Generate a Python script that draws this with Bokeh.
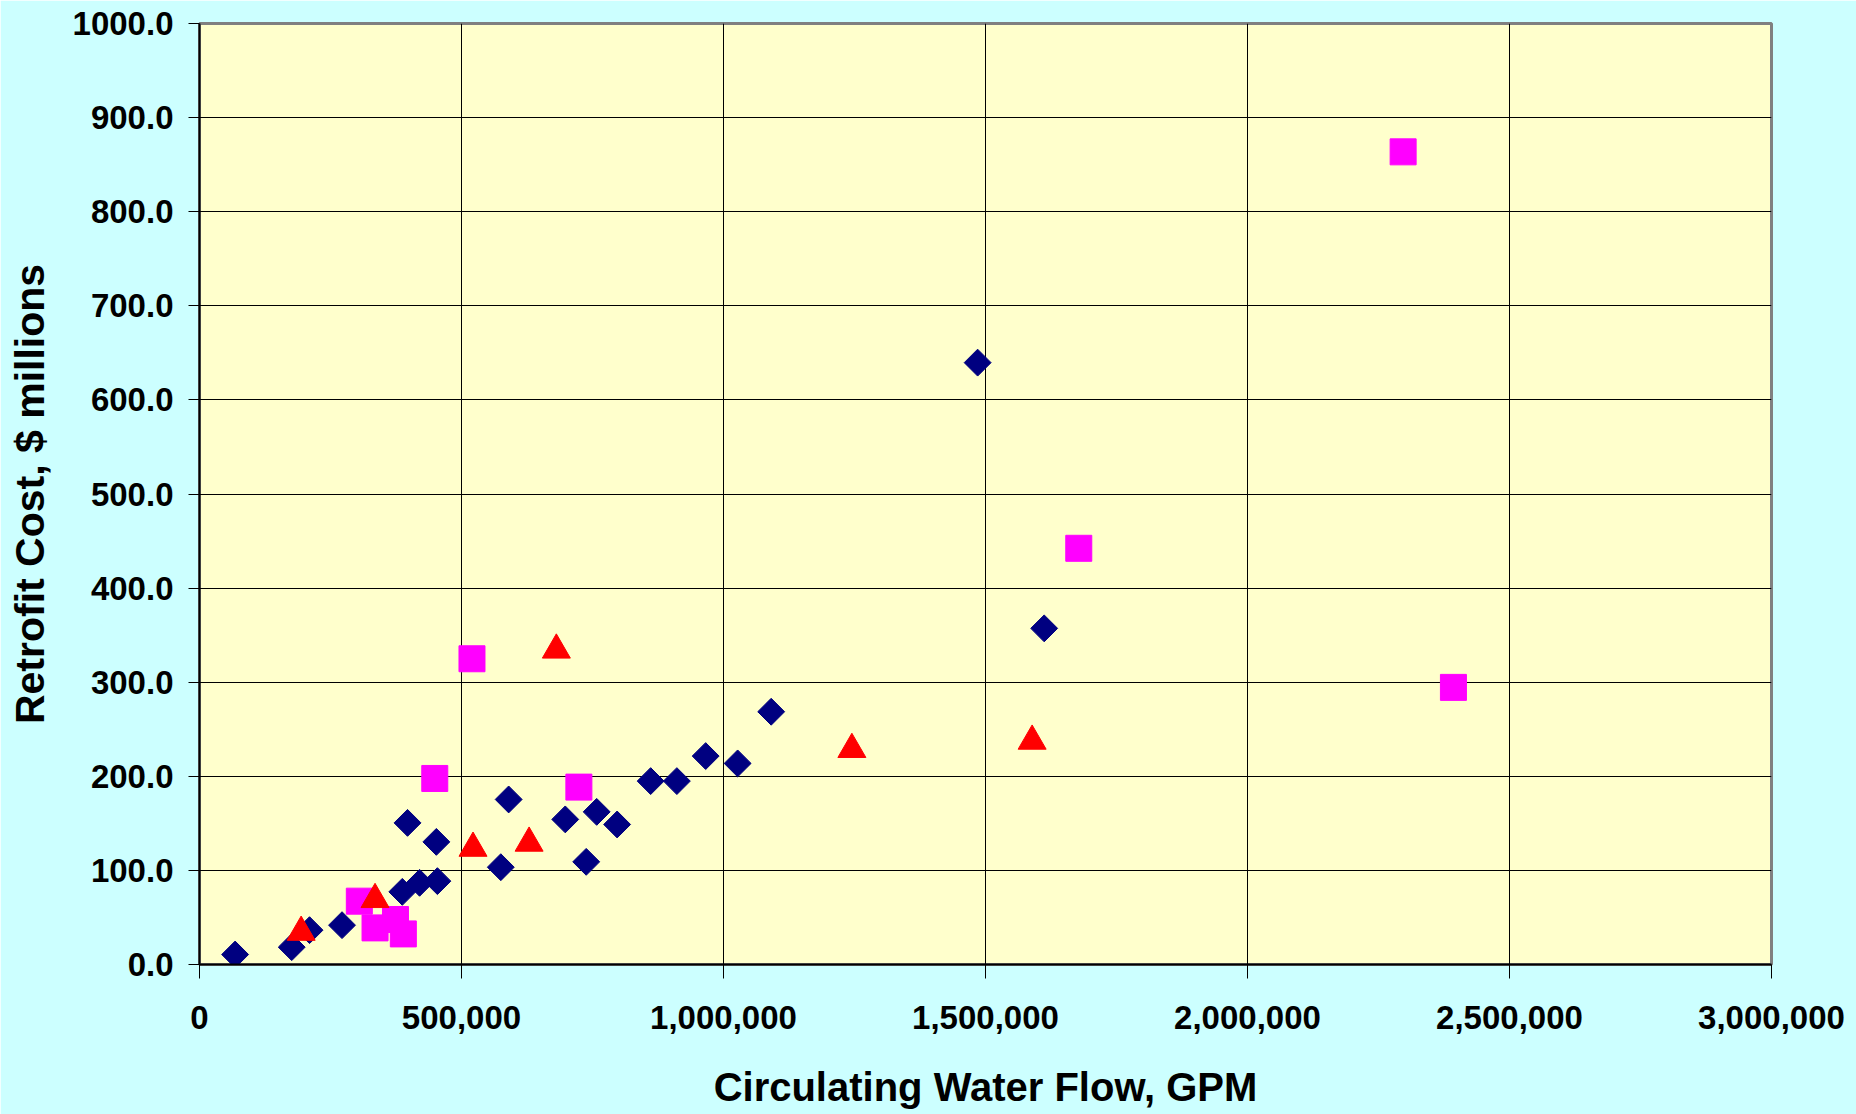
import math

from bokeh.embed import file_html
from bokeh.models import NumeralTickFormatter, Range1d, FixedTicker
from bokeh.plotting import figure
from bokeh.resources import INLINE

# Circulating water flow (GPM) and retrofit cost ($ millions), one list pair per series
diamond_flow = [68000, 176000, 210000, 272000, 387000, 420000, 454000, 397000,
                452000, 575000, 590000, 698000, 738000, 758000, 797000, 861000,
                911000, 966000, 1027000, 1091000, 1485000, 1612000]
diamond_cost = [10.6, 18.4, 36.5, 41.8, 77.2, 86.8, 88.6, 150.5,
                130.3, 103.4, 175.4, 154.2, 109.1, 162.2, 148.8, 194.9,
                194.9, 221.5, 213.7, 268.6, 639.6, 357.2]

square_flow = [305000, 335000, 374000, 389000, 449000, 520000, 724000,
               1678000, 2297000, 2393000]
square_cost = [67.3, 38.9, 47.8, 32.5, 197.7, 324.9, 188.5,
               442.3, 863.6, 294.5]

triangle_flow = [194000, 335000, 522000, 629000, 681000, 1245000, 1589000]
triangle_cost = [34.3, 69.1, 123.6, 129.0, 334.2, 228.6, 237.4]

x_ticks = [0, 500000, 1000000, 1500000, 2000000, 2500000, 3000000]
y_ticks = [0, 100, 200, 300, 400, 500, 600, 700, 800, 900, 1000]

FONT = "Liberation Sans"

p = figure(
    width=1856, height=1114,
    frame_width=1572, frame_height=941,
    min_border_left=199, min_border_right=85,
    min_border_top=23, min_border_bottom=150,
    x_range=Range1d(0, 3000000), y_range=Range1d(0, 1000),
    output_backend="svg", toolbar_location=None,
)

p.border_fill_color = "#CCFFFF"
p.background_fill_color = "#FFFFCC"
p.outline_line_color = "#808080"
p.outline_line_width = 3

# grid
for g in (p.xgrid, p.ygrid):
    g.grid_line_color = "#000000"
    g.grid_line_width = 1
p.xaxis.ticker = FixedTicker(ticks=x_ticks)
p.yaxis.ticker = FixedTicker(ticks=y_ticks)

# axes
for ax in (p.xaxis, p.yaxis):
    ax.axis_line_color = "#000000"
    ax.axis_line_width = 2
    ax.major_tick_line_color = "#000000"
    ax.major_tick_line_width = 1
    ax.major_tick_in = 0
    ax.minor_tick_line_color = None
    ax.major_label_text_font = FONT
    ax.major_label_text_font_style = "bold"
    ax.major_label_text_font_size = "33px"
    ax.major_label_text_color = "#000000"
    ax.axis_label_text_font = FONT
    ax.axis_label_text_font_style = "bold"
    ax.axis_label_text_color = "#000000"

p.xaxis.major_tick_out = 14
p.yaxis.major_tick_out = 11
p.xaxis.major_label_standoff = 27
p.yaxis.major_label_standoff = 15
p.xaxis.formatter = NumeralTickFormatter(format="0,0")
p.yaxis.formatter = NumeralTickFormatter(format="0.0")

p.xaxis.axis_label = "Circulating Water Flow, GPM"
p.yaxis.axis_label = "Retrofit Cost, $ millions"
p.xaxis.axis_label_text_font_size = "40px"
p.yaxis.axis_label_text_font_size = "41px"
p.xaxis.axis_label_standoff = 33
p.yaxis.axis_label_standoff = 17

# series
p.scatter(diamond_flow, diamond_cost, marker="square", angle=math.pi / 4,
          size=19, fill_color="#000080", line_color="#000080")
p.scatter(square_flow, square_cost, marker="square",
          size=26, fill_color="#FF00FF", line_color="#FF00FF")
p.scatter(triangle_flow, triangle_cost, marker="triangle",
          size=28, fill_color="#FF0000", line_color="#FF0000")

open("out.html", "w").write(file_html(p, INLINE))
